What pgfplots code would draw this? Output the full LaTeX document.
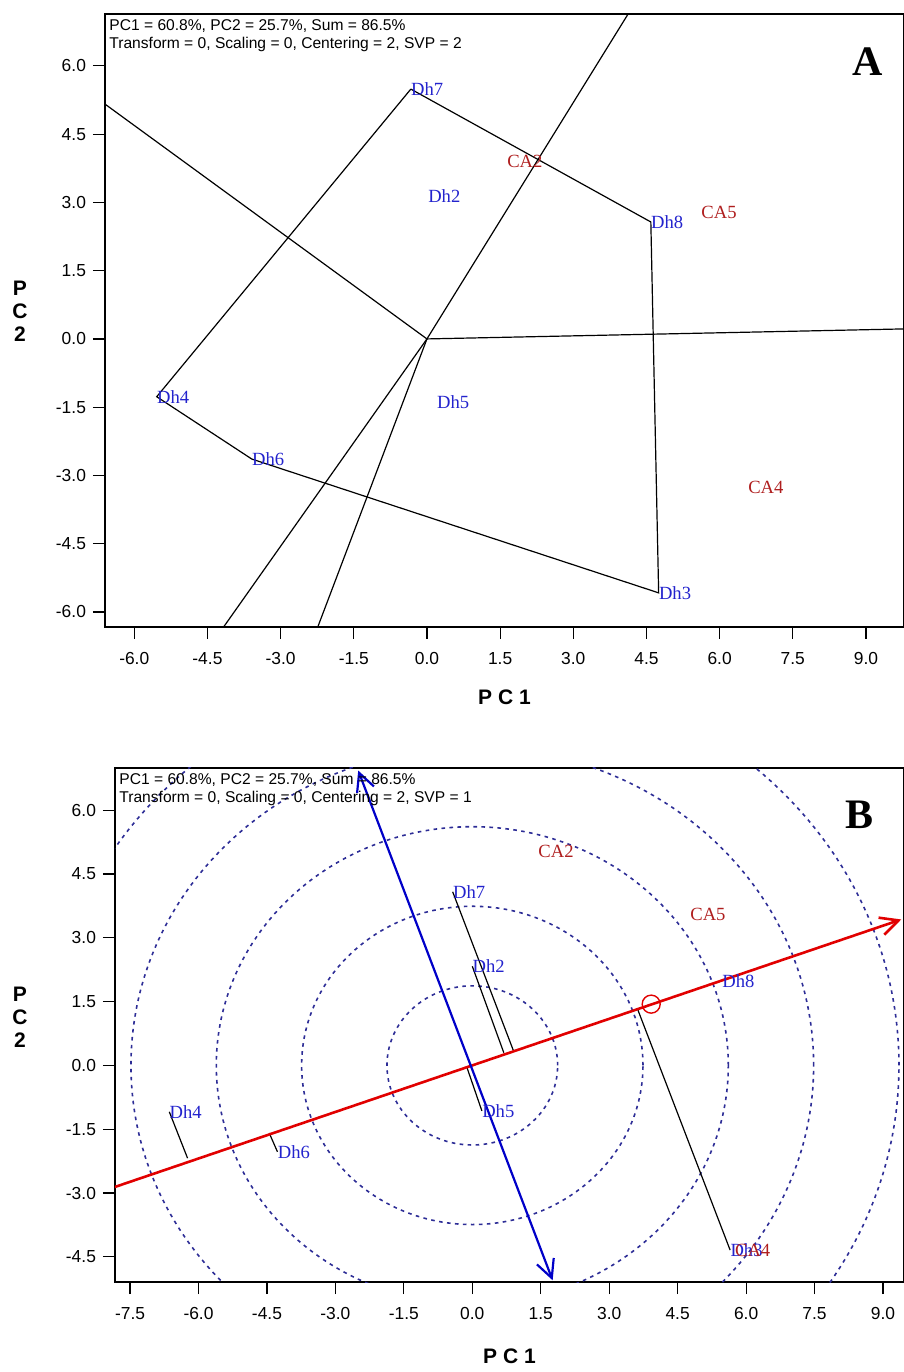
\documentclass[border=0pt]{standalone}
\usepackage{fontspec}
\setmainfont{Liberation Serif}
\newfontfamily\arial{Liberation Sans}
\usepackage{pgfplots}
\pgfplotsset{compat=1.18}
\usetikzlibrary{arrows.meta}

\definecolor{lblblue}{RGB}{35,35,205}
\definecolor{lblred}{RGB}{175,30,30}
\definecolor{circblue}{RGB}{45,45,150}
\definecolor{aeared}{RGB}{225,0,0}
\definecolor{atcblue}{RGB}{0,0,200}

\pgfplotsset{
  biplot/.style={
    scale only axis,
    axis line style={black, line width=0.6pt},
    tick align=outside,
    major tick length=6pt,
    xtick pos=bottom,
    ytick pos=left,
    tick style={black, line width=0.6pt},
    ticklabel style={font=\arial\fontsize{8.7}{10}\selectfont},
    xticklabel style={yshift=-3pt},
    every axis x label/.style={at={(axis description cs:0.5,0)}, anchor=center, font=\arial\bfseries\fontsize{10.5}{12}\selectfont},
    every axis y label/.style={at={(axis description cs:0,0.515)}, anchor=center, align=center, font=\arial\bfseries\fontsize{10.5}{11.5}\selectfont},
  },
  lbl/.style={only marks, mark=none, nodes near coords, point meta=explicit symbolic,
    every node near coord/.append style={anchor=west, inner sep=0pt, font=\fontsize{9.3}{10}\selectfont, text=#1}},
}

\begin{document}
\begin{tikzpicture}
\useasboundingbox (0,0) rectangle (452pt,686pt);

% ================= Panel A =================
\begin{axis}[biplot,
  at={(52.5pt,372.5pt)}, anchor=south west,
  width=399.5pt, height=306.5pt,
  xmin=-6.60, xmax=9.78, ymin=-6.33, ymax=7.14,
  xtick={-6,-4.5,-3,-1.5,0,1.5,3,4.5,6,7.5,9},
  xticklabels={-6.0,-4.5,-3.0,-1.5,0.0,1.5,3.0,4.5,6.0,7.5,9.0},
  ytick={-6,-4.5,-3,-1.5,0,1.5,3,4.5,6},
  yticklabels={-6.0,-4.5,-3.0,-1.5,0.0,1.5,3.0,4.5,6.0},
  xlabel={P C 1}, ylabel={P\\C\\2},
  x label style={yshift=-35pt},
  y label style={xshift=-42.5pt},
]
% polygon (hull)
\addplot[black, line width=0.6pt] coordinates {(-0.33,5.49) (4.59,2.57) (4.75,-5.58) (-3.59,-2.64) (-5.54,-1.27) (-0.33,5.49)};
% rays from origin perpendicular to polygon sides
\addplot[black, line width=0.6pt] coordinates {(0,0) (-9.90,7.74)};
\addplot[black, line width=0.6pt] coordinates {(0,0) (5.36,9.28)};
\addplot[black, line width=0.6pt] coordinates {(0,0) (12.0,0.27)};
\addplot[black, line width=0.6pt] coordinates {(0,0) (-2.91,-8.23)};
\addplot[black, line width=0.6pt] coordinates {(0,0) (-5.42,-8.23)};
% genotypes
\addplot[lbl=lblblue] table[meta=lab] {
x y lab
-0.33 5.49 Dh7
0.02 3.14 Dh2
4.59 2.57 Dh8
-5.54 -1.27 Dh4
0.20 -1.38 Dh5
-3.59 -2.64 Dh6
4.75 -5.58 Dh3
};
% environments
\addplot[lbl=lblred] table[meta=lab] {
x y lab
1.64 3.91 CA2
5.62 2.79 CA5
6.58 -3.27 CA4
};
\node[anchor=north west, inner sep=0pt, align=left, font=\arial\fontsize{7.8}{9}\selectfont] at (axis description cs:0,1) [xshift=2pt, yshift=-2.5pt]
  {PC1 = 60.8\%, PC2 = 25.7\%, Sum = 86.5\%\\Transform = 0, Scaling = 0, Centering = 2, SVP = 2};
\node[font=\bfseries\fontsize{21}{21}\selectfont] at (axis description cs:0.955,0.922) {A};
\end{axis}

% ================= Panel B =================
\begin{axis}[biplot,
  at={(57.5pt,45pt)}, anchor=south west,
  width=394.5pt, height=257pt,
  xmin=-7.83, xmax=9.46, ymin=-5.09, ymax=6.99,
  xtick={-7.5,-6,-4.5,-3,-1.5,0,1.5,3,4.5,6,7.5,9},
  xticklabels={-7.5,-6.0,-4.5,-3.0,-1.5,0.0,1.5,3.0,4.5,6.0,7.5,9.0},
  ytick={-4.5,-3,-1.5,0,1.5,3,4.5,6},
  yticklabels={-4.5,-3.0,-1.5,0.0,1.5,3.0,4.5,6.0},
  xlabel={P C 1}, ylabel={P\\C\\2},
  x label style={yshift=-37pt},
  y label style={xshift=-47.5pt},
]
% concentric circles
\draw[circblue, line width=0.8pt, dash pattern=on 1.8pt off 2.2pt] (axis cs:0,0) circle [radius=1.87];
\draw[circblue, line width=0.8pt, dash pattern=on 1.8pt off 2.2pt] (axis cs:0,0) circle [radius=3.74];
\draw[circblue, line width=0.8pt, dash pattern=on 1.8pt off 2.2pt] (axis cs:0,0) circle [radius=5.61];
\draw[circblue, line width=0.8pt, dash pattern=on 1.8pt off 2.2pt] (axis cs:0,0) circle [radius=7.48];
\draw[circblue, line width=0.8pt, dash pattern=on 1.8pt off 2.2pt] (axis cs:0,0) circle [radius=9.35];
% projections onto the average environment axis
\addplot[black, line width=0.6pt] coordinates {(-0.43,4.08) (0.90,0.35)};
\addplot[black, line width=0.6pt] coordinates {(0.00,2.33) (0.69,0.30)};
\addplot[black, line width=0.6pt] coordinates {(0.21,-1.07) (-0.12,-0.04)};
\addplot[black, line width=0.6pt] coordinates {(-6.64,-1.09) (-6.24,-2.18)};
\addplot[black, line width=0.6pt] coordinates {(-4.27,-2.03) (-4.45,-1.59)};
\addplot[black, line width=0.6pt] coordinates {(5.65,-4.34) (3.63,1.30)};
% average environment axis
\addplot[aeared, line width=1.3pt, -{Straight Barb[length=9pt,width=9pt]}] coordinates {(-8.5,-3.10) (9.40,3.43)};
% ATC ordinate
\addplot[atcblue, line width=1.1pt, {Straight Barb[length=9pt,width=9pt]}-{Straight Barb[length=9pt,width=9pt]}] coordinates {(-2.50,6.93) (1.76,-5.05)};
% mean environment marker
\addplot[only marks, mark=o, mark size=4.5pt, aeared, line width=0.7pt] coordinates {(3.92,1.44)};
% genotypes
\addplot[lbl=lblblue] table[meta=lab] {
x y lab
-0.43 4.08 Dh7
0.00 2.33 Dh2
5.47 1.98 Dh8
-6.64 -1.09 Dh4
0.21 -1.07 Dh5
-4.27 -2.03 Dh6
5.65 -4.34 Dh3
};
% environments
\addplot[lbl=lblred] table[meta=lab] {
x y lab
1.44 5.04 CA2
4.77 3.56 CA5
5.75 -4.34 CA4
};
\node[anchor=north west, inner sep=0pt, align=left, font=\arial\fontsize{7.8}{9}\selectfont] at (axis description cs:0,1) [xshift=2pt, yshift=-2.5pt]
  {PC1 = 60.8\%, PC2 = 25.7\%, Sum = 86.5\%\\Transform = 0, Scaling = 0, Centering = 2, SVP = 1};
\node[font=\bfseries\fontsize{21}{21}\selectfont] at (axis description cs:0.944,0.909) {B};
\end{axis}
\end{tikzpicture}
\end{document}
